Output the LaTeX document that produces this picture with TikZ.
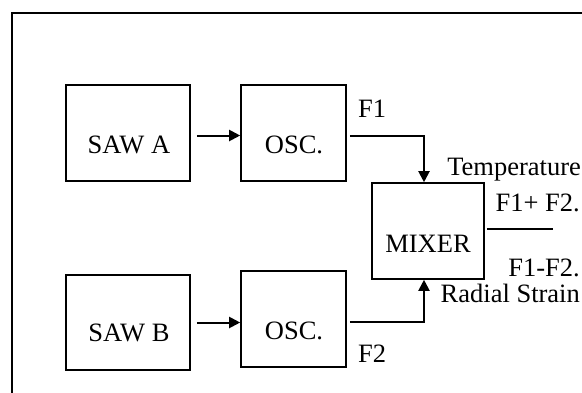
\documentclass[tikz,border=0pt]{standalone}
\usepackage{fontspec}
\setmainfont{Liberation Serif}
\usetikzlibrary{arrows.meta}
\begin{document}
\begin{tikzpicture}[x=1pt,y=-1pt,
  blk/.style={draw,line width=1.6pt,inner sep=0pt},
  lbl/.style={inner sep=0pt,font=\fontsize{26.5}{30}\selectfont},
  conn/.style={line width=2pt},
  arr/.style={conn,-{Triangle[length=11pt,width=11pt]}}]
\useasboundingbox (0,0) rectangle (582,392);
\begin{scope}
\clip (0,0) rectangle (582,392);
\draw[line width=2pt] (12,13) rectangle (600,410);
\end{scope}
% boxes
\node[blk,minimum width=124pt,minimum height=96pt] (sawa) at (128,133) {};
\node[blk,minimum width=105pt,minimum height=96pt] (osca) at (293.5,133) {};
\node[blk,minimum width=124pt,minimum height=95pt] (sawb) at (128,322.5) {};
\node[blk,minimum width=105pt,minimum height=96pt] (oscb) at (293.5,319) {};
\node[blk,minimum width=112pt,minimum height=96pt] (mixer) at (428,231) {};
% box texts
\node[lbl,anchor=base] (tsawa) at (129,153) {SAW A};
\node[lbl,anchor=base] (tosca) at (294,153) {OSC.};
\node[lbl,anchor=base] (tsawb) at (129,341.5) {SAW B};
\node[lbl,anchor=base] (toscb) at (294,339.5) {OSC.};
\node[lbl,anchor=base] (tmixer) at (428,252) {MIXER};
% connectors (yshift is in page direction: negative = downward)
\draw[arr,shorten <=6pt] ([yshift=-2.5pt]sawa.east) -- ([yshift=-2.5pt]osca.west);
\draw[arr,shorten <=6pt] ([yshift=0pt]sawb.east) -- ([yshift=-3.5pt]oscb.west);
\draw[arr,shorten <=3pt] ([yshift=-2.5pt]osca.east) -| ([xshift=-4pt]mixer.north);
\draw[arr,shorten <=3pt] ([yshift=-3pt]oscb.east) -| ([xshift=-4pt]mixer.south);
\coordinate (out) at (553,229);
\draw[conn,shorten <=2pt] ([yshift=2pt]mixer.east) -- (out);
% labels
\node[lbl,anchor=base west] (f1) at (358,117) {F1};
\node[lbl,anchor=base west] (f2) at (358,362) {F2};
\node[lbl,anchor=base east] (temp) at (581,175.5) {Temperature};
\node[lbl,anchor=base east] (sum) at (580,211) {F1+ F2.};
\node[lbl,anchor=base east] (diff) at (580,276.5) {F1-F2.};
\node[lbl,anchor=base east] (rad) at (580,302) {Radial Strain};
\end{tikzpicture}
\end{document}
